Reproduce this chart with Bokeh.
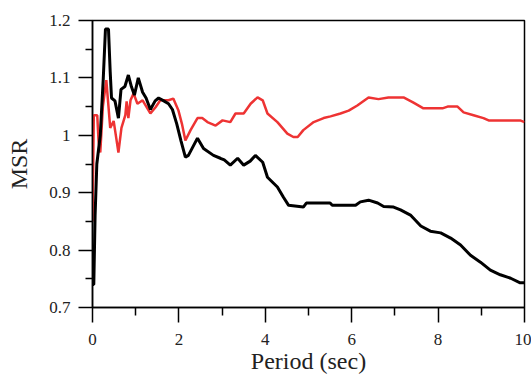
from bokeh.plotting import figure
from bokeh.models import Range1d, FixedTicker, CustomJSTickFormatter
from bokeh.embed import file_html
from bokeh.resources import INLINE

# ---- data ----
black_period = [0.00, 0.03, 0.06, 0.10, 0.18, 0.25, 0.30, 0.37, 0.41, 0.44, 0.52, 0.60,
                0.66, 0.75, 0.83, 0.90, 0.97, 1.06, 1.16, 1.24, 1.34, 1.45, 1.53, 1.65,
                1.76, 1.85, 1.95, 2.05, 2.15, 2.22, 2.43, 2.57, 2.80, 2.96, 3.05, 3.19,
                3.36, 3.50, 3.65, 3.77, 3.94, 4.05, 4.28, 4.42, 4.54, 4.88, 4.95, 5.50,
                5.55, 6.09, 6.20, 6.39, 6.60, 6.74, 6.97, 7.13, 7.36, 7.60, 7.82, 8.06,
                8.29, 8.52, 8.75, 8.98, 9.21, 9.44, 9.68, 9.90, 10.0]
black_msr = [0.740, 0.740, 0.860, 0.950, 1.000, 1.100, 1.185, 1.185, 1.110, 1.065, 1.060, 1.030,
             1.080, 1.085, 1.105, 1.085, 1.070, 1.100, 1.075, 1.065, 1.045, 1.060, 1.065, 1.060,
             1.055, 1.045, 1.020, 0.990, 0.962, 0.965, 0.995, 0.977, 0.965, 0.960, 0.957, 0.948,
             0.960, 0.948, 0.955, 0.965, 0.953, 0.927, 0.910, 0.892, 0.878, 0.875, 0.882, 0.882,
             0.878, 0.878, 0.884, 0.887, 0.882, 0.876, 0.875, 0.870, 0.861, 0.842, 0.833, 0.830,
             0.821, 0.809, 0.791, 0.779, 0.765, 0.757, 0.751, 0.743, 0.743]

red_period = [0.00, 0.03, 0.11, 0.14, 0.18, 0.24, 0.32, 0.37, 0.41, 0.49, 0.55, 0.60,
              0.67, 0.76, 0.79, 0.83, 0.88, 0.95, 1.04, 1.16, 1.27, 1.34, 1.46, 1.57,
              1.76, 1.87, 1.99, 2.07, 2.15, 2.27, 2.43, 2.54, 2.66, 2.85, 3.01, 3.19,
              3.31, 3.50, 3.66, 3.82, 3.94, 4.05, 4.28, 4.51, 4.65, 4.75, 4.88, 5.12,
              5.35, 5.51, 5.74, 5.93, 6.13, 6.39, 6.62, 6.85, 7.20, 7.43, 7.66, 8.10,
              8.22, 8.45, 8.59, 8.82, 9.05, 9.17, 9.90, 10.0]
red_msr = [0.850, 1.035, 1.035, 0.990, 0.970, 1.050, 1.096, 1.050, 1.013, 1.025, 0.995, 0.970,
           1.013, 1.035, 1.059, 1.030, 1.061, 1.073, 1.055, 1.061, 1.047, 1.038, 1.049, 1.061,
           1.061, 1.064, 1.043, 1.020, 0.991, 1.009, 1.030, 1.030, 1.023, 1.017, 1.026, 1.023,
           1.038, 1.038, 1.055, 1.066, 1.061, 1.038, 1.023, 1.003, 0.997, 0.997, 1.009, 1.023,
           1.030, 1.033, 1.038, 1.043, 1.052, 1.066, 1.063, 1.066, 1.066, 1.057, 1.047, 1.047,
           1.050, 1.050, 1.040, 1.035, 1.030, 1.026, 1.026, 1.023]

x_ticks = [0, 2, 4, 6, 8, 10]
x_minor = [1, 3, 5, 7, 9]
y_ticks = [0.7, 0.8, 0.9, 1.0, 1.1, 1.2]
y_tick_labels = ["0.7", "0.8", "0.9", "1", "1.1", "1.2"]
y_minor = [0.75, 0.85, 0.95, 1.05, 1.15]

FONT = "Liberation Serif"

p = figure(width=531, height=378, output_backend="svg", toolbar_location=None,
           x_range=Range1d(0, 10), y_range=Range1d(0.7, 1.2))
p.min_border_left = 92
p.min_border_right = 7
p.min_border_top = 20
p.min_border_bottom = 71
p.background_fill_color = "white"
p.border_fill_color = "white"
p.grid.visible = False
p.outline_line_color = "black"
p.outline_line_width = 1.5

p.line(red_period, red_msr, line_color="#ee3333", line_width=2.5)
p.line(black_period, black_msr, line_color="black", line_width=3)

xa = p.xaxis[0]
xa.ticker = FixedTicker(ticks=x_ticks, minor_ticks=x_minor)
xa.axis_label = "Period (sec)"
ya = p.yaxis[0]
ya.ticker = FixedTicker(ticks=y_ticks, minor_ticks=y_minor)
ya.formatter = CustomJSTickFormatter(args=dict(tv=y_ticks, tl=y_tick_labels), code="""
let best = 0;
for (let i = 0; i < tv.length; i++) {
  if (Math.abs(tv[i] - tick) < Math.abs(tv[best] - tick)) best = i;
}
return tl[best];
""")
ya.axis_label = "MSR"

for ax in (xa, ya):
    ax.axis_line_color = "black"
    ax.axis_line_width = 1.5
    ax.major_tick_line_color = "black"
    ax.major_tick_line_width = 1.5
    ax.minor_tick_line_color = "black"
    ax.minor_tick_line_width = 1.5
    ax.major_tick_in = 0
    ax.minor_tick_in = 0
    ax.major_label_text_font = FONT
    ax.major_label_text_font_size = "17px"
    ax.major_label_text_color = "#222222"
    ax.axis_label_text_font = FONT
    ax.axis_label_text_font_style = "normal"
    ax.axis_label_text_font_size = "24px"
    ax.axis_label_text_color = "#222222"

xa.major_tick_out = 15
xa.minor_tick_out = 8
xa.major_label_standoff = 11
xa.axis_label_standoff = 0
ya.major_tick_out = 14
ya.minor_tick_out = 7
ya.major_label_standoff = 8
ya.axis_label_standoff = 14

open("out.html", "w").write(file_html(p, INLINE))
